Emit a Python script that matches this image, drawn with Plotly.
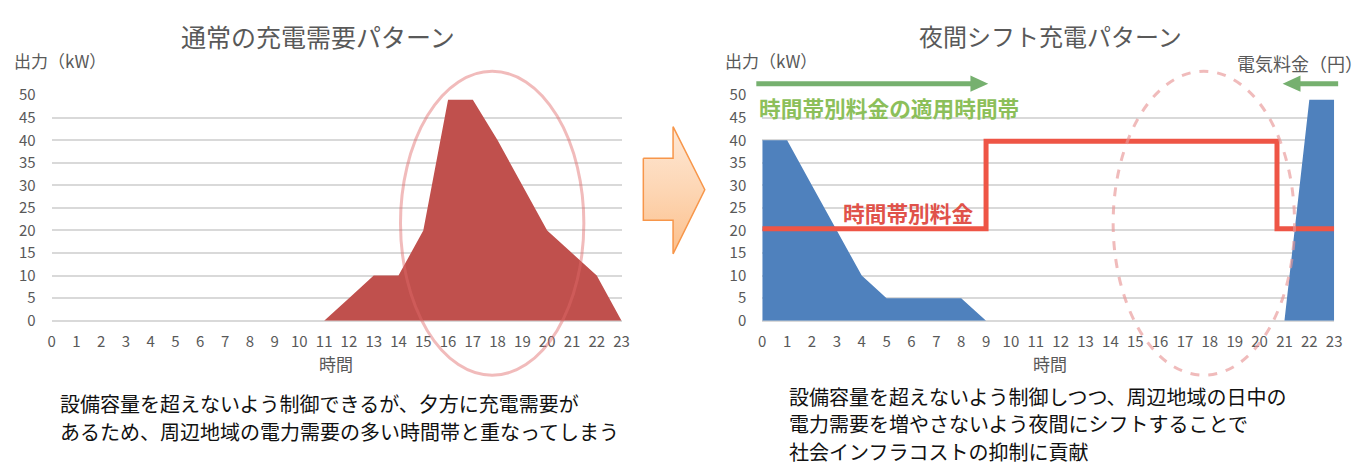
import plotly.graph_objects as go

# ---------------- data ----------------
hours = list(range(24))
hour_labels = [str(h) for h in hours]
normal_kw = [0, 0, 0, 0, 0, 0, 0, 0, 0, 0, 0, 0, 5, 10, 10, 20, 49, 49, 40, 30, 20, 15, 10, 0]
shift_kw = [40, 40, 30, 20, 10, 5, 5, 5, 5, 0, 0, 0, 0, 0, 0, 0, 0, 0, 0, 0, 0, 0, 49, 49]
price_hours = [0, 9, 20.7, 23]
price_level = [20.4, 39.8, 20.4, 20.4]
y_ticks = [0, 5, 10, 15, 20, 25, 30, 35, 40, 45, 50]

left_note = ["設備容量を超えないよう制御できるが、夕方に充電需要が",
             "あるため、周辺地域の電力需要の多い時間帯と重なってしまう"]
right_note = ["設備容量を超えないよう制御しつつ、周辺地域の日中の",
              "電力需要を増やさないよう夜間にシフトすることで",
              "社会インフラコストの抑制に貢献"]

W, H = 1363, 475
FONT = "Noto Sans CJK JP, Noto Sans, sans-serif"
GRAY = "#595959"


def px(x):
    return x / W


def py(y):
    return 1 - y / H


fig = go.Figure()
fig.add_trace(go.Scatter(x=hours, y=normal_kw, mode="lines", fill="tozeroy",
                         line=dict(width=0, color="#C0504D"), fillcolor="#C0504D",
                         xaxis="x", yaxis="y", hoverinfo="skip"))
fig.add_trace(go.Scatter(x=hours, y=shift_kw, mode="lines", fill="tozeroy",
                         line=dict(width=0, color="#4F81BD"), fillcolor="#4F81BD",
                         xaxis="x2", yaxis="y2", hoverinfo="skip"))
fig.add_trace(go.Scatter(x=price_hours, y=price_level, mode="lines", line_shape="hv",
                         line=dict(width=5, color="#EE5546"),
                         xaxis="x2", yaxis="y2", hoverinfo="skip"))

# orange block arrow (decoration) on a hidden full-page pixel axis, with a gradient fill
arrow_px = [645, 675, 675, 707, 675, 675, 645, 645]
arrow_py = [153, 153, 120, 186, 253, 218, 218, 153]
fig.add_trace(go.Scatter(x=arrow_px, y=arrow_py, mode="lines", fill="toself",
                         line=dict(color="#F7964A", width=1.5),
                         fillgradient=dict(type="vertical",
                                           colorscale=[[0, "#FCC08C"], [0.5, "#FDD6B4"], [1, "#FEE8D6"]]),
                         xaxis="x3", yaxis="y3", hoverinfo="skip"))

ydom = [py(323), py(87)]
xcommon = dict(range=[0, 23], tickvals=hours, ticktext=hour_labels, showgrid=False,
               zeroline=False, showline=False, ticks="", ticklabelstandoff=10,
               tickfont=dict(family=FONT, size=15, color=GRAY), fixedrange=True)
ycommon = dict(range=[0, 50], tickvals=y_ticks, showgrid=True, gridcolor="#D9D9D9",
               gridwidth=1.5, zeroline=True, zerolinecolor="#D9D9D9", zerolinewidth=1.5,
               showline=False, ticks="", ticklabelstandoff=15, domain=ydom,
               tickfont=dict(family=FONT, size=15, color=GRAY), fixedrange=True)

fig.update_layout(
    width=W, height=H, margin=dict(l=0, r=0, t=0, b=0),
    paper_bgcolor="white", plot_bgcolor="rgba(0,0,0,0)", showlegend=False,
    font=dict(family=FONT, color=GRAY),
    xaxis=dict(domain=[px(48), px(623)], anchor="y", **xcommon),
    yaxis=dict(anchor="x", **ycommon),
    xaxis2=dict(domain=[px(765), px(1342)], anchor="y2", **xcommon),
    yaxis2=dict(anchor="x2", **ycommon),
    xaxis3=dict(domain=[0, 1], range=[0, W], visible=False, anchor="y3", fixedrange=True),
    yaxis3=dict(domain=[0, 1], range=[H, 0], visible=False, anchor="x3", fixedrange=True),
)

shapes = []
shapes.append(dict(type="circle", xref="paper", yref="paper",
                   x0=px(400), x1=px(585), y0=py(380), y1=py(62),
                   line=dict(color="rgba(225,105,105,0.45)", width=3)))
shapes.append(dict(type="circle", xref="paper", yref="paper",
                   x0=px(1119), x1=px(1302), y0=py(380), y1=py(62),
                   line=dict(color="rgba(232,150,150,0.65)", width=3, dash="dash")))
GREEN = "#76B06F"
shapes.append(dict(type="line", xref="paper", yref="paper", x0=px(759), x1=px(976),
                   y0=py(75), y1=py(75), line=dict(color=GREEN, width=5)))
tri = [(975, 66.5), (993, 75), (975, 83.5)]
shapes.append(dict(type="path", xref="paper", yref="paper",
                   path="M " + " L ".join(f"{px(a):.5f},{py(b):.5f}" for a, b in tri) + " Z",
                   fillcolor=GREEN, line=dict(color=GREEN, width=0)))
shapes.append(dict(type="line", xref="paper", yref="paper", x0=px(1307), x1=px(1346),
                   y0=py(75), y1=py(75), line=dict(color=GREEN, width=5)))
tri2 = [(1308, 66.5), (1290, 75), (1308, 83.5)]
shapes.append(dict(type="path", xref="paper", yref="paper",
                   path="M " + " L ".join(f"{px(a):.5f},{py(b):.5f}" for a, b in tri2) + " Z",
                   fillcolor=GREEN, line=dict(color=GREEN, width=0)))
fig.update_layout(shapes=shapes)


def ann(text, x, y, size, color=GRAY, xanchor="center", yanchor="middle", align="center"):
    return dict(text=text, x=px(x), y=py(y), xref="paper", yref="paper", showarrow=False,
                xanchor=xanchor, yanchor=yanchor, align=align, borderpad=0,
                font=dict(family=FONT, size=size, color=color))


anns = [
    ann("通常の充電需要パターン", 317, 25, 25),
    ann("夜間シフト充電パターン", 1056, 25, 24),
    ann("出力（kW）", 9, 51, 17, xanchor="left"),
    ann("出力（kW）", 726, 51, 17, xanchor="left"),
    ann("電気料金（円）", 1372, 53, 18, xanchor="right"),
    ann("時間", 335, 368, 17),
    ann("時間", 1055, 368, 17),
    ann("<b>時間帯別料金の適用時間帯</b>", 761, 100, 21.7, color="#8CBF5A", xanchor="left"),
    ann("<b>時間帯別料金</b>", 845, 210, 21.7, color="#E0524A", xanchor="left"),
]
for line, yy in zip(left_note, [410, 439]):
    anns.append(ann(line, 55, yy, 20, color="#111111", xanchor="left"))
for line, yy in zip(right_note, [402, 431, 460]):
    anns.append(ann(line, 791, yy, 20, color="#111111", xanchor="left"))
fig.update_layout(annotations=anns)

fig.write_html("out.html")
